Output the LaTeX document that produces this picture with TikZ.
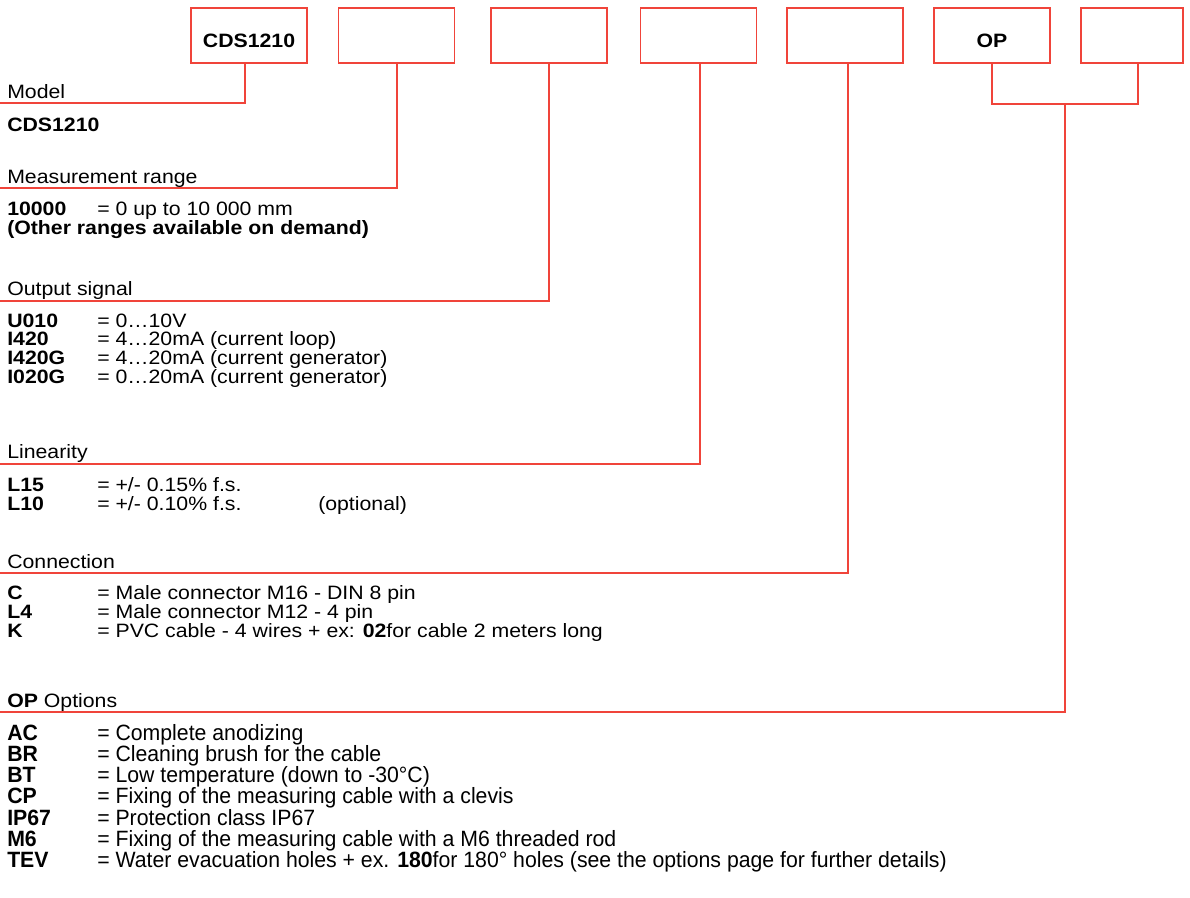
\documentclass[tikz,border=0pt]{standalone}
\usepackage{fontspec}
\setmainfont{Liberation Sans}
\newfontfamily\dgmainfamily[FakeStretch=1.1]{Liberation Sans}
\newfontfamily\dgoptfamily[FakeStretch=0.96]{Liberation Sans}
\newcommand\dgmain{\dgmainfamily\fontsize{14.5pt}{18pt}\selectfont}
\newcommand\dgopt{\dgoptfamily\fontsize{16.6pt}{20pt}\selectfont}
\definecolor{lred}{RGB}{240,68,58}
\begin{document}
\begin{tikzpicture}[x=0.75pt,y=-0.75pt,
  codebox/.style={draw=lred, line width=1.4pt, minimum width=87pt, minimum height=41pt, inner sep=0pt},
  conn/.style={draw=lred, line width=1.4pt},
  lbl/.style={anchor=base west, inner sep=0pt, font=\dgmain},
  boxlbl/.style={anchor=base, inner sep=0pt, font=\dgmain\bfseries},
  optlbl/.style={anchor=base west, inner sep=0pt, font=\dgopt}]
\useasboundingbox (0,0) rectangle (1190,897);
% code boxes
\node[codebox] (b1) at (249,35.7) {};
\node[codebox] (b2) at (396.5,35.7) {};
\node[codebox] (b3) at (549,35.7) {};
\node[codebox] (b4) at (698.5,35.7) {};
\node[codebox] (b5) at (845,35.7) {};
\node[codebox] (b6) at (992,35.7) {};
\node[codebox, minimum width=76pt] (b7) at (1132,35.7) {};
\node[boxlbl] (t1) at (249,47.5) {CDS1210};
\node[boxlbl] (t6) at (992,47.5) {OP};
% connector x positions
\coordinate (x1) at (245,0);
\coordinate (x2) at (397,0);
\coordinate (x3) at (549,0);
\coordinate (x4) at (700,0);
\coordinate (x5) at (848,0);
\coordinate (x6) at (992,0);
\coordinate (x7) at (1138,0);
\coordinate (br) at (0,103.7);
\coordinate (bm) at (1065,103.7);
% section line ends
\coordinate (m1) at (0,103.3);
\coordinate (m2) at (0,188.3);
\coordinate (m3) at (0,301);
\coordinate (m4) at (0,464);
\coordinate (m5) at (0,573.3);
\coordinate (m6) at (0,711.7);
\draw[conn] (b1.south -| x1) |- (m1);
\draw[conn] (b2.south -| x2) |- (m2);
\draw[conn] (b3.south -| x3) |- (m3);
\draw[conn] (b4.south -| x4) |- (m4);
\draw[conn] (b5.south -| x5) |- (m5);
\draw[conn] (b6.south -| x6) -- (x6 |- br) -- (x7 |- br) -- (b7.south -| x7);
\draw[conn] (bm) |- (m6);
% Model
\node[lbl] (h1) at (7,98) {Model};
\node[lbl] (v1) at (7,131) {\bfseries CDS1210};
% Measurement range
\node[lbl] (h2) at (7,183) {Measurement range};
\node[lbl] (c21) at (7,215) {\bfseries 10000};
\node[lbl] (v21) at (97,215) {= 0 up to 10 000 mm};
\node[lbl] (v22) at (7,234) {\bfseries (Other ranges available on demand)};
% Output signal
\node[lbl] (h3) at (7,295) {Output signal};
\node[lbl] (c31) at (7,327) {\bfseries U010};
\node[lbl] (v31) at (97,327) {= 0…10V};
\node[lbl] (c32) at (7,345.7) {\bfseries I420};
\node[lbl] (v32) at (97,345.7) {= 4…20mA (current loop)};
\node[lbl] (c33) at (7,364.7) {\bfseries I420G};
\node[lbl] (v33) at (97,364.7) {= 4…20mA (current generator)};
\node[lbl] (c34) at (7,383.7) {\bfseries I020G};
\node[lbl] (v34) at (97,383.7) {= 0…20mA (current generator)};
% Linearity
\node[lbl] (h4) at (7,458) {Linearity};
\node[lbl] (c41) at (7,491) {\bfseries L15};
\node[lbl] (v41) at (97,491) {= +/- 0.15\% f.s.};
\node[lbl] (c42) at (7,510) {\bfseries L10};
\node[lbl] (v42) at (97,510) {= +/- 0.10\% f.s.};
\node[lbl] (o42) at (318,510) {(optional)};
% Connection
\node[lbl] (h5) at (7,568) {Connection};
\node[lbl] (c51) at (7,599) {\bfseries C};
\node[lbl] (v51) at (97,599) {= Male connector M16 - DIN 8 pin};
\node[lbl] (c52) at (7,618) {\bfseries L4};
\node[lbl] (v52) at (97,618) {= Male connector M12 - 4 pin};
\node[lbl] (c53) at (7,637) {\bfseries K};
\node[lbl] (v53) at (97,637) {= PVC cable - 4 wires + ex: \textbf{02}for cable 2 meters long};
% Options
\node[lbl] (h6) at (7,707) {\textbf{OP} Options};
\node[optlbl] (c61) at (7,740) {\bfseries AC};
\node[optlbl] (v61) at (97,740) {= Complete anodizing};
\node[optlbl] (c62) at (7,761.3) {\bfseries BR};
\node[optlbl] (v62) at (97,761.3) {= Cleaning brush for the cable};
\node[optlbl] (c63) at (7,782.6) {\bfseries BT};
\node[optlbl] (v63) at (97,782.6) {= Low temperature (down to -30°C)};
\node[optlbl] (c64) at (7,803.9) {\bfseries CP};
\node[optlbl] (v64) at (97,803.9) {= Fixing of the measuring cable with a clevis};
\node[optlbl] (c65) at (7,825.2) {\bfseries IP67};
\node[optlbl] (v65) at (97,825.2) {= Protection class IP67};
\node[optlbl] (c66) at (7,846.5) {\bfseries M6};
\node[optlbl] (v66) at (97,846.5) {= Fixing of the measuring cable with a M6 threaded rod};
\node[optlbl] (c67) at (7,867.8) {\bfseries TEV};
\node[optlbl] (v67) at (97,867.8) {= Water evacuation holes + ex. \textbf{180}for 180° holes (see the options page for further details)};
\end{tikzpicture}
\end{document}
